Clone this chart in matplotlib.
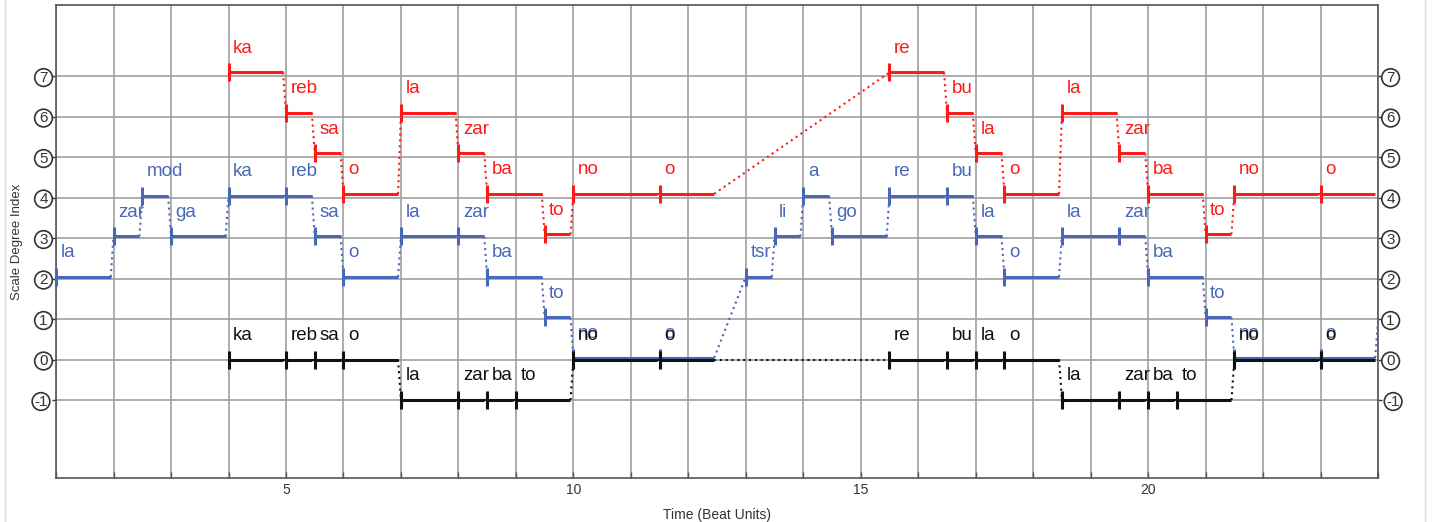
import matplotlib.pyplot as plt
from matplotlib.lines import Line2D

plt.rcParams['font.family'] = ['Liberation Sans', 'DejaVu Sans']

# melody (blue)
blue_syl = ["la", "zar", "mod", "ga", "ka", "reb", "sa", "o", "la", "zar", "ba", "to", "no", "o",
            "tsr", "li", "a", "go", "re", "bu", "la", "o", "la", "zar", "ba", "to", "no", "o"]
blue_start = [1, 2, 2.5, 3, 4, 5, 5.5, 6, 7, 8, 8.5, 9.5, 10, 11.5,
              13, 13.5, 14, 14.5, 15.5, 16.5, 17, 17.5, 18.5, 19.5, 20, 21, 21.5, 23]
blue_dur = [1, .5, .5, 1, 1, .5, .5, 1, 1, .5, 1, .5, 1.5, 1,
            .5, .5, .5, 1, 1, .5, .5, 1, 1, .5, 1, .5, 1.5, 1]
blue_deg = [2, 3, 4, 3, 4, 4, 3, 2, 3, 3, 2, 1, 0, 0,
            2, 3, 4, 3, 4, 4, 3, 2, 3, 3, 2, 1, 0, 0]

# red voice
red_syl = ["ka", "reb", "sa", "o", "la", "zar", "ba", "to", "no", "o",
           "re", "bu", "la", "o", "la", "zar", "ba", "to", "no", "o"]
red_start = [4, 5, 5.5, 6, 7, 8, 8.5, 9.5, 10, 11.5,
             15.5, 16.5, 17, 17.5, 18.5, 19.5, 20, 21, 21.5, 23]
red_dur = [1, .5, .5, 1, 1, .5, 1, .5, 1.5, 1,
           1, .5, .5, 1, 1, .5, 1, .5, 1.5, 1]
red_deg = [7, 6, 5, 4, 6, 5, 4, 3, 4, 4,
           7, 6, 5, 4, 6, 5, 4, 3, 4, 4]

# black voice
black_syl = ["ka", "reb", "sa", "o", "la", "zar", "ba", "to", "no", "o",
             "re", "bu", "la", "o", "la", "zar", "ba", "to", "no", "o"]
black_start = [4, 5, 5.5, 6, 7, 8, 8.5, 9, 10, 11.5,
               15.5, 16.5, 17, 17.5, 18.5, 19.5, 20, 20.5, 21.5, 23]
black_dur = [1, .5, .5, 1, 1, .5, .5, 1, 1.5, 1,
             1, .5, .5, 1, 1, .5, .5, 1, 1.5, 1]
black_deg = [0, 0, 0, 0, -1, -1, -1, -1, 0, 0,
             0, 0, 0, 0, -1, -1, -1, -1, 0, 0]

ytick_vals = [-1, 0, 1, 2, 3, 4, 5, 6, 7]
xtick_vals = list(range(1, 25))

fig = plt.figure(figsize=(14.38, 5.22), dpi=100)
ax = fig.add_axes([0.039, 0.084, 0.9193, 0.906])


def draw_voice(starts, durs, degs, syls, color, off, next_pt=None):
    gap = 0.05
    for i in range(len(starts)):
        x0 = starts[i]
        x1 = starts[i] + durs[i] - gap
        y = degs[i] + off
        ax.plot([x0, x1], [y, y], color=color, lw=2.2, solid_capstyle='butt', zorder=4)
        ax.plot([x0], [y], marker='|', ms=13, mew=2.2, color=color, zorder=4, clip_on=False)
        ax.text(x0 + 0.08, y + 0.6, syls[i], color=color, fontsize=13.5,
                ha='left', va='center', zorder=5)
        if i + 1 < len(starts):
            ax.plot([x1, starts[i + 1]], [y, degs[i + 1] + off], color=color,
                    lw=1.5, ls=(0, (1.0, 1.8)), zorder=3)
    if next_pt is not None:
        ax.plot([starts[-1] + durs[-1] - gap, next_pt[0]], [degs[-1] + off, next_pt[1] + off],
                color=color, lw=1.5, ls=(0, (1.0, 1.8)), zorder=3)


draw_voice(blue_start, blue_dur, blue_deg, blue_syl, '#4a68b8', 0.04, next_pt=(24.06, 2))
draw_voice(red_start, red_dur, red_deg, red_syl, '#ff1a1a', 0.09)
draw_voice(black_start, black_dur, black_deg, black_syl, '#111111', 0.0)

ax.set_xlim(1, 24)
ax.set_ylim(-2.93, 8.75)
ax.set_xticks(xtick_vals)
ax.set_xticklabels([str(v) if v % 5 == 0 else '' for v in xtick_vals], fontsize=10, color='#333333')
ax.set_yticks(ytick_vals)
ax.set_yticklabels([str(v) for v in ytick_vals])
ax.tick_params(axis='y', labelright=True, right=True, length=3, pad=3,
               labelsize=11, colors='#333333', width=1)
ax.tick_params(axis='x', length=4, direction='in', width=1, colors='#555555', labelcolor='#333333')
for t in ax.yaxis.get_major_ticks():
    for lab in (t.label1, t.label2):
        lab.set_bbox(dict(boxstyle='circle,pad=0.12', fc='white', ec='#333333', lw=1.2))
ax.grid(True, color='#a0a0a0', lw=1.2)
ax.set_axisbelow(True)
for s in ax.spines.values():
    s.set_color('#555555')
    s.set_linewidth(1.2)

ax.set_ylabel('Scale Degree Index', fontsize=9.5, color='#333333', labelpad=8)
ax.set_xlabel('Time (Beat Units)', fontsize=10, color='#333333', labelpad=8)

# faint screenshot border lines
fig.add_artist(Line2D([0.0035, 0.0035], [0, 1], transform=fig.transFigure, color='#dddddd', lw=1))
fig.add_artist(Line2D([0.991, 0.991], [0, 1], transform=fig.transFigure, color='#dddddd', lw=1))

fig.savefig('out.png', dpi=100)
